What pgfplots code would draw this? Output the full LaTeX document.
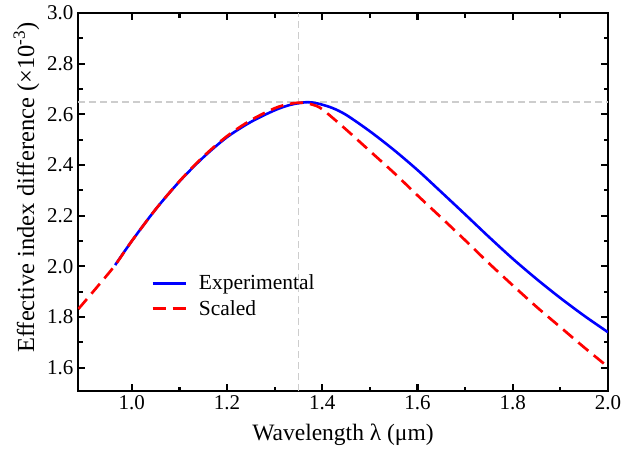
\documentclass[border=0pt]{standalone}
\usepackage{fontspec}
\setmainfont{Liberation Serif}
\usepackage{pgfplots}
\pgfplotsset{compat=1.18}
\definecolor{refgray}{RGB}{205,205,205}
\begin{document}
\begin{tikzpicture}
\begin{axis}[
  scale only axis,
  width=530pt, height=378pt,
  xmin=0.887, xmax=2.0,
  ymin=1.508, ymax=3.0,
  xtick={1.0,1.2,1.4,1.6,1.8,2.0},
  ytick={1.6,1.8,2.0,2.2,2.4,2.6,2.8,3.0},
  minor x tick num=1,
  minor y tick num=1,
  tick align=inside,
  ticks=both,
  xtick pos=both, ytick pos=both,
  major tick length=7pt,
  minor tick length=4.5pt,
  every tick/.style={line width=2.2pt, black},
  axis line style={line width=2.5pt},
  /pgf/number format/.cd, fixed, fixed zerofill, precision=1, assume math mode=true,
  /pgfplots/.cd,
  tick label style={font=\fontsize{21}{25}\selectfont},
  xticklabel style={yshift=-1pt},
  yticklabel style={xshift=-1pt},
  xlabel={Wavelength λ (μm)},
  ylabel={Effective index difference (×10\textsuperscript{-3})},
  xlabel style={font=\fontsize{23.5}{27}\selectfont, at={(axis description cs:0.5,-0.132)}, anchor=base},
  ylabel style={font=\fontsize{24.5}{28}\selectfont, at={(axis description cs:-0.083,0.538)}, anchor=base},
  legend style={at={(axis description cs:0.132,0.318)}, anchor=north west, draw=none, fill=none,
    font=\fontsize{21.5}{25}\selectfont, row sep=5pt, column sep=10pt},
  legend cell align=left,
  legend image code/.code={\draw[#1] (0pt,0pt) -- (33pt,0pt);},
  clip=true,
]
\addplot[refgray, line width=1.5pt, dash pattern=on 7pt off 4pt, forget plot] coordinates {(0.887,2.648) (2.0,2.648)};
\addplot[refgray, line width=1.5pt, dash pattern=on 7pt off 4pt, forget plot] coordinates {(1.35,1.508) (1.35,3.0)};
\addplot[blue, line width=2.6pt, smooth] coordinates {
(0.965,2.005) (1.00,2.100) (1.05,2.225) (1.10,2.335) (1.15,2.430) (1.20,2.510)
(1.25,2.570) (1.30,2.616) (1.33,2.636) (1.35,2.644) (1.37,2.648) (1.39,2.643)
(1.42,2.626) (1.45,2.598) (1.50,2.533) (1.55,2.460) (1.60,2.380) (1.65,2.293)
(1.70,2.205) (1.75,2.116) (1.80,2.030) (1.85,1.950) (1.90,1.875) (1.95,1.805) (2.00,1.740)
};
\addlegendentry{Experimental}
\addplot[red, line width=2.7pt, dash pattern=on 13pt off 7pt, smooth] coordinates {
(0.888,1.832) (0.93,1.925) (0.965,2.005) (1.00,2.100) (1.05,2.225) (1.10,2.336) (1.15,2.433)
(1.20,2.514) (1.25,2.577) (1.30,2.624) (1.33,2.641) (1.35,2.646) (1.36,2.646) (1.38,2.638)
(1.40,2.620) (1.45,2.540) (1.50,2.455) (1.55,2.370) (1.60,2.280) (1.65,2.192)
(1.70,2.103) (1.75,2.012) (1.80,1.925) (1.85,1.840) (1.90,1.760) (1.95,1.680) (2.00,1.603)
};
\addlegendentry{Scaled}
\end{axis}
\pgfresetboundingbox
\path ([xshift=-78pt,yshift=-59pt]current axis.south west) rectangle ([xshift=15pt,yshift=13pt]current axis.north east);
\end{tikzpicture}
\end{document}
